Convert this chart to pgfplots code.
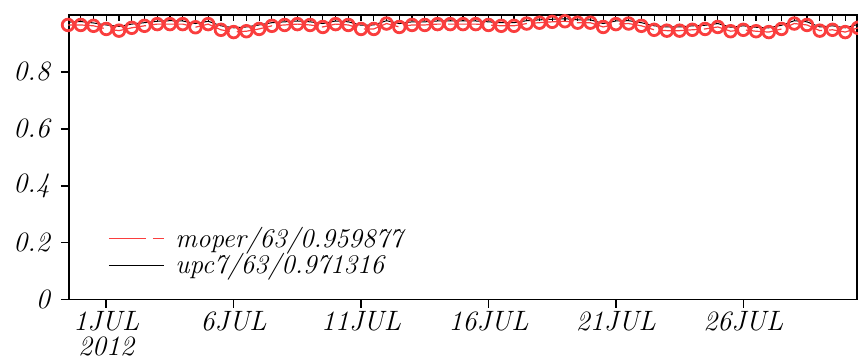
\documentclass[border=0pt]{standalone}
\usepackage{pgfplots}
\pgfplotsset{compat=1.18}
\usepackage{pgfplotstable}
\definecolor{mred}{RGB}{250,62,62}
\pgfplotstableread{
x moper upc7
-1.5 0.965 0.975
-1.0 0.965 0.977
-0.5 0.962 0.972
0.0 0.951 0.965
0.5 0.945 0.960
1.0 0.955 0.968
1.5 0.962 0.973
2.0 0.968 0.978
2.5 0.968 0.980
3.0 0.968 0.979
3.5 0.957 0.970
4.0 0.968 0.978
4.5 0.948 0.962
5.0 0.940 0.955
5.5 0.943 0.958
6.0 0.951 0.965
6.5 0.962 0.973
7.0 0.965 0.976
7.5 0.968 0.979
8.0 0.965 0.976
8.5 0.958 0.970
9.0 0.968 0.979
9.5 0.965 0.976
10.0 0.951 0.964
10.5 0.951 0.965
11.0 0.970 0.980
11.5 0.958 0.970
12.0 0.965 0.976
12.5 0.965 0.976
13.0 0.968 0.979
13.5 0.968 0.979
14.0 0.968 0.979
14.5 0.968 0.979
15.0 0.965 0.976
15.5 0.962 0.973
16.0 0.962 0.973
16.5 0.970 0.980
17.0 0.973 0.983
17.5 0.976 0.985
18.0 0.978 0.987
18.5 0.973 0.983
19.0 0.973 0.983
19.5 0.958 0.970
20.0 0.968 0.979
20.5 0.970 0.980
21.0 0.962 0.973
21.5 0.948 0.962
22.0 0.945 0.958
22.5 0.945 0.958
23.0 0.948 0.962
23.5 0.951 0.964
24.0 0.958 0.970
24.5 0.943 0.957
25.0 0.948 0.962
25.5 0.943 0.957
26.0 0.940 0.955
26.5 0.951 0.964
27.0 0.970 0.980
27.5 0.965 0.976
28.0 0.945 0.958
28.5 0.948 0.962
29.0 0.940 0.955
29.5 0.955 0.967
}\datatable
\begin{document}
\begin{tikzpicture}
\useasboundingbox (0pt,0pt) rectangle (429pt,180.5pt);
% top tick marks every 12 hours
\begin{axis}[
  at={(34.65pt,30.75pt)}, anchor=south west,
  scale only axis, width=393.7pt, height=142.25pt,
  xmin=-1.45, xmax=29.45, ymin=0, ymax=1,
  axis x line*=top, axis y line=none,
  xtick={-1.5,-1,...,29.5}, xticklabels={},
  xtick align=inside, major tick length=3pt,
  tick style={black, line width=0.6pt},
  axis line style={line width=0.8pt},
]
\end{axis}
\begin{axis}[
  at={(34.65pt,30.75pt)}, anchor=south west,
  scale only axis, width=393.7pt, height=142.25pt,
  xmin=-1.45, xmax=29.45, ymin=0, ymax=1,
  clip=false,
  axis line style={line width=0.8pt},
  tick align=outside, major tick length=4.2pt,
  tick style={black, line width=0.8pt},
  xtick pos=bottom, ytick pos=left,
  xtick={0,5,10,15,20,25},
  xticklabels={{1JUL\\[-1.5pt]2012},6JUL,11JUL,16JUL,21JUL,26JUL},
  xticklabel style={align=center, font=\fontsize{14}{14}\selectfont\itshape, yshift=2pt},
  ytick={0,0.2,0.4,0.6,0.8},
  yticklabel style={font=\fontsize{14}{15}\selectfont\itshape, xshift=-2pt},
  /pgf/number format/assume math mode=true,
]
\addplot[black, line width=0.5pt] table[x=x, y=upc7] {\datatable};
\addplot[mred, line width=0.6pt, dash pattern=on 18pt off 3.5pt,
  mark=o, mark size=2.9pt, mark options={solid, line width=1.4pt, mred}]
  table[x=x, y=moper] {\datatable};
\end{axis}
% legend
\begin{axis}[
  at={(34.65pt,30.75pt)}, anchor=south west,
  scale only axis, width=393.7pt, height=142.25pt,
  xmin=-1.45, xmax=29.45, ymin=0, ymax=1,
  hide axis,
  legend style={draw=none, fill=none, inner sep=0pt,
    at={(axis description cs:0.049,0.167)}, anchor=west,
    font=\fontsize{13.5}{13}\selectfont\itshape, row sep=-2.5pt,
    nodes={inner xsep=5.5pt}},
  legend cell align=left,
  legend image code/.code={\draw[#1] (0pt,0pt) -- (27.5pt,0pt);},
]
\addlegendimage{mred, line width=0.6pt, dash pattern=on 18.5pt off 3.5pt}
\addlegendentry{moper/63/0.959877}
\addlegendimage{black, line width=0.6pt}
\addlegendentry{upc7/63/0.971316}
\end{axis}
\end{tikzpicture}
\end{document}
